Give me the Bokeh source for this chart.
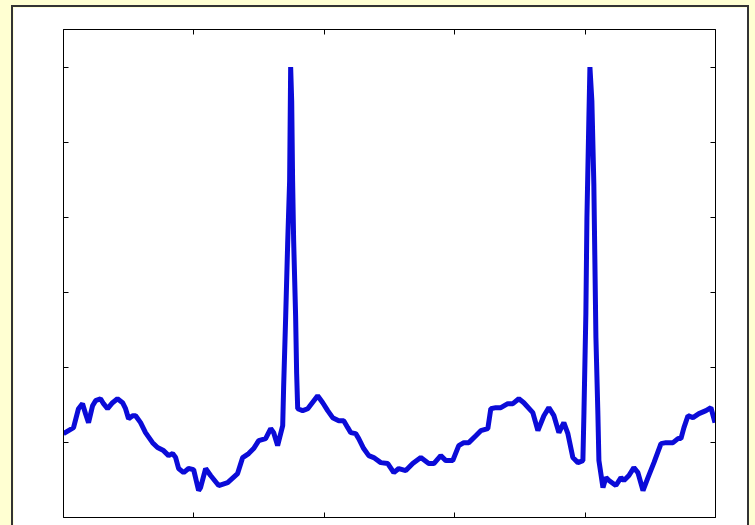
from bokeh.plotting import figure
from bokeh.layouts import column
from bokeh.models import LinearAxis, FixedTicker, Range1d
from bokeh.embed import file_html
from bokeh.resources import INLINE

# ECG trace (time in arbitrary units 0..5, amplitude 0..6.5)
t = [0.000, 0.077, 0.115, 0.146, 0.169, 0.192, 0.223, 0.246, 0.284, 0.307,
     0.338, 0.376, 0.414, 0.453, 0.476, 0.499, 0.530, 0.553, 0.591, 0.629,
     0.683, 0.721, 0.767, 0.806, 0.837, 0.860, 0.883, 0.921, 0.959, 0.998,
     1.036, 1.051, 1.090, 1.128, 1.190, 1.259, 1.335, 1.374, 1.420, 1.458,
     1.497, 1.550, 1.589, 1.612, 1.642, 1.681, 1.688, 1.704, 1.719, 1.734,
     1.742, 1.750, 1.757, 1.765, 1.780, 1.788, 1.796, 1.834, 1.873, 1.949,
     1.988, 2.026, 2.064, 2.111, 2.149, 2.180, 2.203, 2.241, 2.264, 2.302,
     2.341, 2.379, 2.433, 2.487, 2.533, 2.571, 2.625, 2.678, 2.740, 2.801,
     2.840, 2.893, 2.932, 2.985, 3.031, 3.070, 3.108, 3.162, 3.200, 3.254,
     3.277, 3.315, 3.354, 3.407, 3.446, 3.492, 3.530, 3.599, 3.638, 3.684,
     3.722, 3.761, 3.799, 3.837, 3.868, 3.906, 3.945, 3.983, 3.991, 4.006,
     4.014, 4.029, 4.037, 4.052, 4.067, 4.075, 4.083, 4.098, 4.106, 4.137,
     4.160, 4.183, 4.236, 4.275, 4.298, 4.336, 4.374, 4.405, 4.444, 4.482,
     4.528, 4.582, 4.620, 4.674, 4.712, 4.735, 4.758, 4.789, 4.827, 4.873,
     4.927, 4.965, 4.996]
v = [1.117, 1.197, 1.449, 1.516, 1.383, 1.263, 1.489, 1.556, 1.582, 1.516,
     1.449, 1.529, 1.582, 1.529, 1.449, 1.316, 1.356, 1.356, 1.263, 1.130,
     0.997, 0.931, 0.891, 0.824, 0.851, 0.798, 0.652, 0.598, 0.652, 0.638,
     0.359, 0.399, 0.652, 0.559, 0.426, 0.465, 0.585, 0.798, 0.851, 0.918,
     1.024, 1.051, 1.184, 1.130, 0.957, 1.223, 1.729, 2.686, 3.644, 4.481,
     6.000, 5.545, 4.481, 3.684, 2.686, 1.915, 1.449, 1.423, 1.449, 1.622,
     1.529, 1.423, 1.330, 1.290, 1.290, 1.197, 1.130, 1.117, 1.051, 0.918,
     0.824, 0.798, 0.731, 0.718, 0.598, 0.652, 0.625, 0.718, 0.798, 0.718,
     0.718, 0.824, 0.758, 0.758, 0.957, 0.997, 0.997, 1.090, 1.157, 1.184,
     1.449, 1.463, 1.463, 1.516, 1.516, 1.582, 1.529, 1.396, 1.157, 1.356,
     1.463, 1.356, 1.130, 1.263, 1.117, 0.798, 0.731, 0.758, 1.383, 2.726,
     3.989, 5.319, 6.000, 5.545, 4.441, 3.418, 2.394, 1.383, 0.758, 0.399,
     0.532, 0.492, 0.426, 0.532, 0.492, 0.559, 0.665, 0.598, 0.359, 0.532,
     0.731, 0.984, 0.997, 0.997, 1.051, 1.051, 1.197, 1.356, 1.330, 1.383,
     1.423, 1.463, 1.263]

x_ticks = [1, 2, 3, 4]
y_ticks = [1, 2, 3, 4, 5, 6]

p = figure(width=734, height=518, output_backend="svg", toolbar_location=None,
           x_range=Range1d(0, 5), y_range=Range1d(0, 6.5),
           x_axis_location=None, y_axis_location=None,
           min_border_left=50, min_border_right=32, min_border_top=22,
           min_border_bottom=8, frame_width=652, frame_height=488,
           border_fill_color="white", background_fill_color="white",
           outline_line_color="black", outline_line_width=1)
p.xgrid.visible = False
p.ygrid.visible = False
p.margin = (7, 0, 0, 13)
p.styles = {"box-shadow": "0 0 0 2px #333333"}

def make_axis(ticks):
    ax = LinearAxis(ticker=FixedTicker(ticks=ticks))
    ax.major_tick_in = 5
    ax.major_tick_out = 0
    ax.minor_tick_line_color = None
    ax.major_label_text_color = None
    ax.major_label_text_font_size = "1px"
    ax.major_label_standoff = 0
    ax.axis_line_color = "black"
    ax.major_tick_line_color = "black"
    return ax

p.add_layout(make_axis(x_ticks), "below")
p.add_layout(make_axis(x_ticks), "above")
p.add_layout(make_axis(y_ticks), "left")
p.add_layout(make_axis(y_ticks), "right")

p.line(t, v, line_color="#0b0bd8", line_width=5, line_join="bevel")

page = column(p, width=755, height=525,
              styles={"background-color": "#FFFFD2"})

open("out.html", "w").write(file_html(page, INLINE))
